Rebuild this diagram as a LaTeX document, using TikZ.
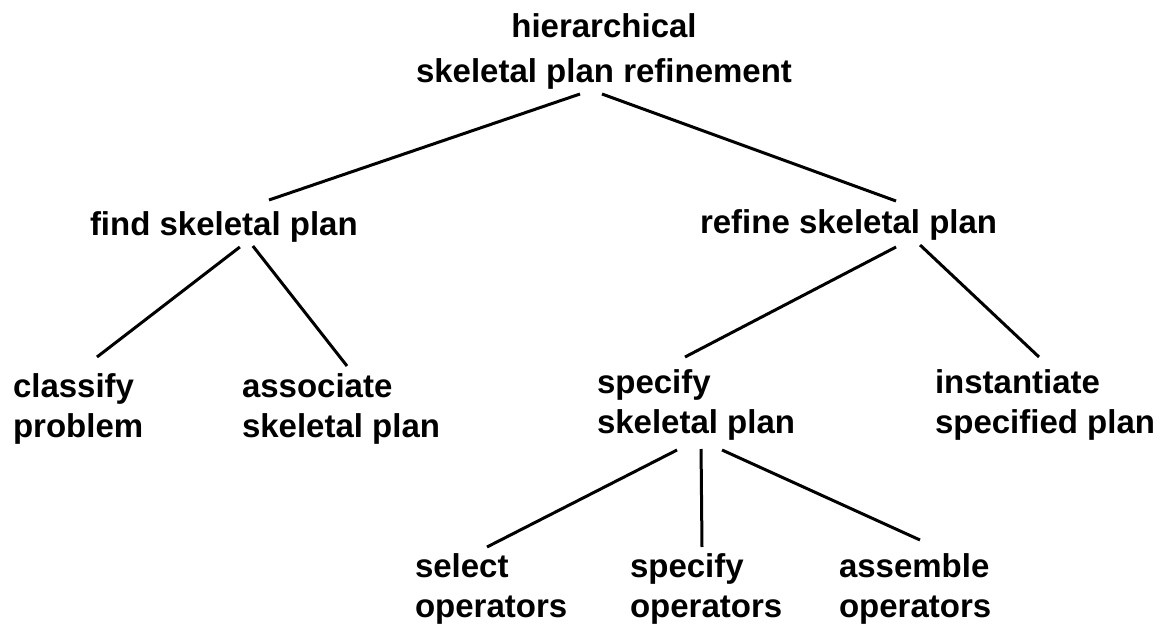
\documentclass[tikz,border=0pt]{standalone}
\usepackage{fontspec}
\setmainfont{Liberation Sans}
\usetikzlibrary{calc}
\begin{document}
\begin{tikzpicture}[x=1pt,y=-1pt,
  lbl/.style={inner sep=0pt, outer sep=0pt, font=\fontsize{33}{40}\selectfont\bfseries, align=left, anchor=north west},
  edge/.style={line width=3pt, line cap=butt, black}]
\useasboundingbox[fill=white] (0,0) rectangle (1163,626);
% nodes
\node[lbl, align=center, anchor=north] (root) at (604,10) {\strut hierarchical\\[4pt]\strut skeletal plan refinement};
\node[lbl] (find) at (90,207) {\strut find skeletal plan};
\node[lbl] (refine) at (700,205) {\strut refine skeletal plan};
\node[lbl] (classify) at (13,369) {\strut classify\\\strut problem};
\node[lbl] (associate) at (242,369) {\strut associate\\\strut skeletal plan};
\node[lbl] (specify) at (597,365) {\strut specify\\\strut skeletal plan};
\node[lbl] (instantiate) at (935,365) {\strut instantiate\\\strut specified plan};
\node[lbl] (select) at (415,549) {\strut select\\\strut operators};
\node[lbl] (specop) at (630,549) {\strut specify\\\strut operators};
\node[lbl] (assemble) at (839,549) {\strut assemble\\\strut operators};
% connectors
\draw[edge] ($(root.south)+(-24,0)$) -- ($(find.north west)+(179,-7)$);
\draw[edge] ($(root.south)+(-2,0)$) -- ($(refine.north west)+(196,-4)$);
\draw[edge] ($(find.south)+(16,0)$) -- ($(classify.north west)+(84,-12)$);
\draw[edge] ($(find.south)+(29,-1)$) -- ($(associate.north west)+(105,-3)$);
\draw[edge] ($(refine.south)+(47.5,2)$) -- ($(specify.north west)+(88,-8)$);
\draw[edge] ($(refine.south)+(71.5,0)$) -- ($(instantiate.north west)+(104,-8)$);
\draw[edge] ($(specify.south)+(-19,5)$) -- ($(select.north west)+(72,-2)$);
\draw[edge] ($(specify.south)+(5,4)$) -- ($(specop.north west)+(72,-2)$);
\draw[edge] ($(specify.south)+(26,5)$) -- ($(assemble.north west)+(81,-9)$);
\end{tikzpicture}
\end{document}
